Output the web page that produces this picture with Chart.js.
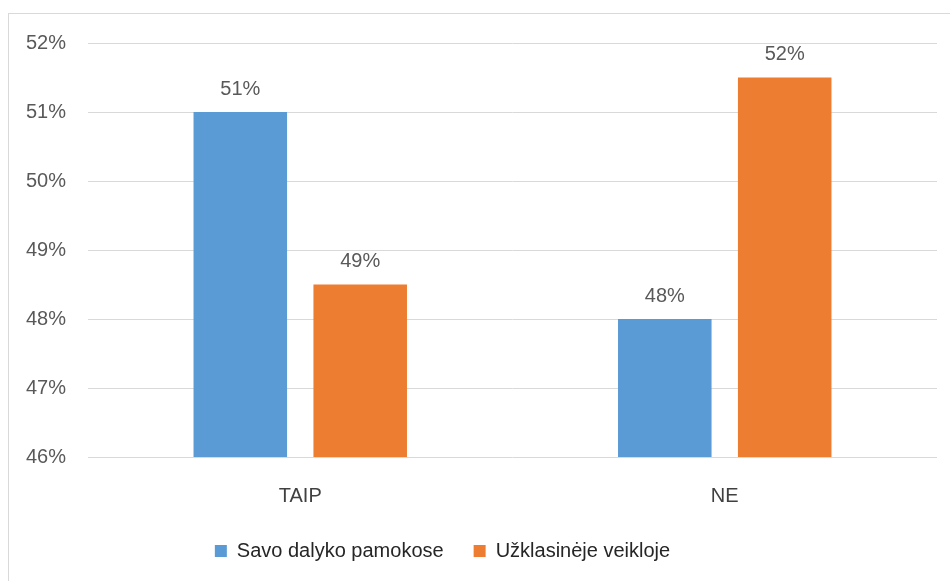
<!DOCTYPE html>
<html>
<head>
<meta charset="utf-8">
<script src="https://cdn.jsdelivr.net/npm/chart.js@4/dist/chart.umd.min.js"></script>
<style>
html,body{margin:0;padding:0;background:#fff;}
#wrap{width:950px;height:581px;position:relative;}
</style>
</head>
<body>
<div id="wrap"><canvas id="c" width="950" height="581"></canvas></div>
<script>
const categories = ["TAIP", "NE"];
const seriesNames = ["Savo dalyko pamokose", "Užklasinėje veikloje"];
const savoDalyko = [0.51, 0.48];
const uzklasineje = [0.485, 0.515];
const yMin = 0.46, yMax = 0.52, yStep = 0.01;

const FONT = "'Liberation Sans', Arial, sans-serif";

const borderPlugin = {
  id: 'outerBorder',
  beforeDraw(chart) {
    const ctx = chart.ctx;
    ctx.save();
    ctx.fillStyle = '#fff';
    ctx.fillRect(0, 0, chart.width, chart.height);
    ctx.strokeStyle = '#d9d9d9';
    ctx.lineWidth = 1;
    ctx.strokeRect(8.5, 13.5, 2000, 2000);
    ctx.restore();
  }
};

const legendShift = {
  id: 'legendShift',
  afterLayout(chart) {
    if (chart.legend) {
      chart.legend.left -= 26;
      chart.legend.right -= 26;
    }
  }
};

const labelPlugin = {
  id: 'valueLabels',
  afterDatasetsDraw(chart) {
    const ctx = chart.ctx;
    ctx.save();
    ctx.font = "20px " + FONT;
    ctx.fillStyle = '#595959';
    ctx.textAlign = 'center';
    ctx.textBaseline = 'bottom';
    chart.data.datasets.forEach((ds, i) => {
      chart.getDatasetMeta(i).data.forEach((bar, j) => {
        ctx.fillText(Math.round(ds.data[j] * 100) + '%', bar.x, bar.y - 13);
      });
    });
    ctx.restore();
  }
};

new Chart(document.getElementById('c'), {
  type: 'bar',
  data: {
    labels: categories,
    datasets: [
      { label: seriesNames[0], data: savoDalyko, backgroundColor: '#5B9BD5', categoryPercentage: 0.565, barPercentage: 0.78 },
      { label: seriesNames[1], data: uzklasineje, backgroundColor: '#ED7D31', categoryPercentage: 0.565, barPercentage: 0.78 }
    ]
  },
  options: {
    responsive: false,
    animation: false,
    layout: { padding: { left: 0, top: 43, right: 13, bottom: 10 } },
    scales: {
      x: {
        grid: { display: false, drawTicks: false },
        border: { display: false },
        ticks: { font: { size: 20, family: FONT }, color: '#404040', padding: 27 },
        afterFit(s) { s.height = 54; }
      },
      y: {
        min: yMin, max: yMax,
        grid: { color: '#d9d9d9', lineWidth: 1, drawTicks: false },
        border: { display: false },
        ticks: {
          stepSize: yStep,
          font: { size: 20, family: FONT }, color: '#595959', padding: 22,
          callback: v => Math.round(v * 100) + '%'
        },
        afterFit(s) { s.width = 88; }
      }
    },
    plugins: {
      legend: {
        position: 'bottom',
        labels: {
          font: { size: 20, family: FONT }, color: '#262626',
          boxWidth: 12, boxHeight: 12, padding: 30
        }
      },
      tooltip: { enabled: false }
    }
  },
  plugins: [borderPlugin, legendShift, labelPlugin]
});
</script>
</body>
</html>
